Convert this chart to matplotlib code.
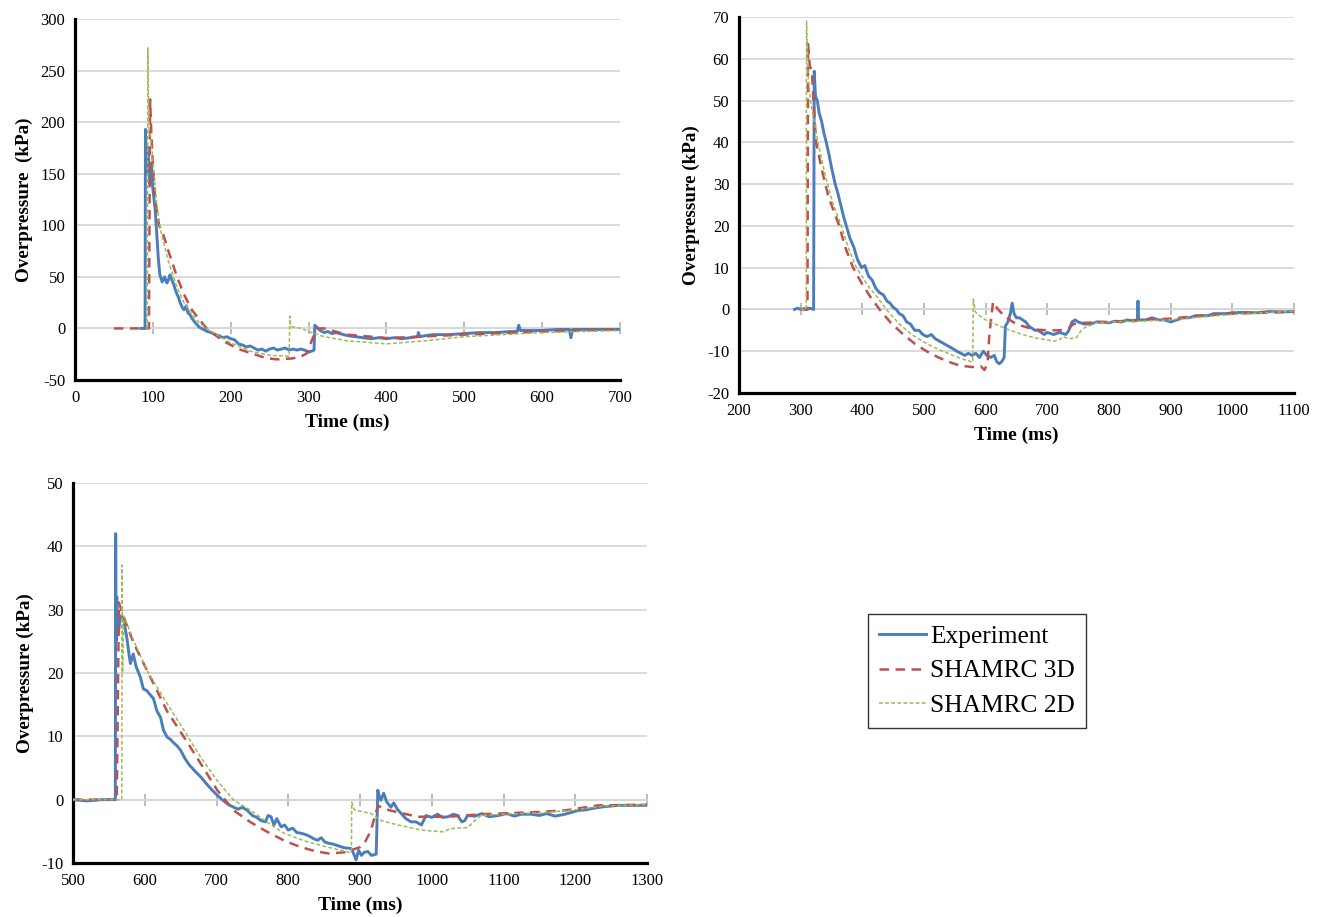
import matplotlib
matplotlib.use("Agg")
import matplotlib.pyplot as plt
import numpy as np

# ---------------- data: (time ms, overpressure kPa) ----------------
# panel A (top left)
a_exp = np.array([
    [85, 0], [90, 0], [90.5, 193], [92, 150], [94, 175], [96, 140], [98, 160], [100, 135],
    [103, 115], [105, 92], [107, 68], [109, 52], [112, 45], [115, 50], [118, 44], [120, 47],
    [122, 52], [124, 48], [127, 42], [130, 35], [133, 30], [135, 25], [138, 20], [140, 18],
    [143, 22], [145, 15], [148, 13], [150, 10], [155, 5], [160, 1], [165, -1], [170, -3],
    [175, -4], [180, -6], [185, -7], [190, -9], [195, -8], [200, -10], [205, -11], [210, -15],
    [215, -16], [220, -18], [225, -17], [230, -19], [235, -21], [240, -20], [245, -22],
    [250, -20], [255, -19], [260, -21], [265, -20], [270, -19], [275, -21], [280, -20],
    [285, -21], [290, -20], [295, -21], [300, -23], [304, -22], [307, -21], [308, 3],
    [311, 1], [315, -2], [320, -4], [325, -3], [330, -5], [335, -4], [340, -5], [350, -7],
    [360, -8], [370, -9], [380, -10], [390, -9], [400, -10], [410, -9], [420, -10], [430, -9],
    [440, -8], [441, -4], [443, -8], [450, -7], [460, -6], [480, -6], [500, -5], [520, -4],
    [540, -4], [560, -3], [568, -3], [570, 3], [572, -2], [580, -2], [600, -2], [620, -1],
    [635, -1], [637, -9], [639, -1], [660, -1], [680, -1], [700, -1],
])
a_3d = np.array([
    [50, 0], [95, 0], [96.5, 222], [98, 190], [100, 160], [103, 125], [108, 100], [113, 92],
    [120, 75], [131, 50], [140, 33], [150, 18], [169, 0], [190, -12], [210, -20], [230, -25],
    [246, -29], [260, -30], [280, -29], [291, -27], [298, -24], [305, -10], [311, 0],
    [320, 0], [327, -1.5], [349, -6], [400, -9.3], [443, -8], [500, -6], [550, -4.5],
    [600, -3], [650, -2], [700, -1],
])
a_2d = np.array([
    [92, 0], [93, 0], [93.5, 272], [95, 195], [97, 185], [100, 165], [105, 120], [110, 95],
    [120, 65], [130, 42], [140, 25], [150, 14], [160, 5], [175, -3], [200, -14], [225, -22],
    [250, -26], [275, -27], [276, 12], [277, 2], [290, 0], [300, -3], [320, -8], [350, -12],
    [400, -15], [450, -12], [500, -8], [550, -6], [600, -4], [650, -3], [700, -2],
])

# panel B (top right)
b_exp = np.array([
    [290, 0], [295, 0.3], [300, 0], [305, 0.2], [310, 0], [315, 0.3], [321, 0], [322, 57],
    [324, 51], [327, 50], [330, 47], [334, 45], [338, 42], [341.6, 40], [346, 37], [350, 34],
    [356, 30], [360, 28], [365, 25], [370, 22], [374, 20], [380, 17], [386, 15], [392, 12],
    [398.7, 10], [404, 10.5], [410, 8], [416, 7], [422, 5], [428, 4], [434, 3.5], [440, 2],
    [445, 1.5], [450, 0.5], [455, 0], [460, -1], [466, -1.5], [472, -3], [478, -3.5],
    [485, -5], [492, -5], [498, -6], [505, -6.5], [512, -6], [518, -7], [524, -7.5],
    [530, -8], [536, -8.5], [542, -9], [548, -9.5], [553, -10], [560, -10.5], [566, -11],
    [572, -10.5], [578, -11], [584, -10.5], [590, -11.5], [596, -10], [602, -11],
    [608, -11.5], [614, -11], [618, -12.5], [622, -13], [626, -12.5], [630, -11.5],
    [632, -4], [636, -3], [640, -1], [643, 1.5], [646, -1], [650, -2], [655, -2],
    [660, -2.5], [665, -3], [670, -4], [675, -4.5], [680, -5], [685, -5], [690, -5.5],
    [695, -6], [700, -5.5], [710, -6], [720, -5.5], [730, -6], [735, -5], [740, -3],
    [745, -2.5], [750, -3], [760, -3.5], [770, -3.5], [780, -3], [790, -3], [800, -3.2],
    [810, -2.8], [820, -3], [830, -2.5], [840, -2.8], [846, -2.5], [847, 2], [848, -2.5],
    [860, -2.5], [870, -2], [880, -2.5], [890, -2.5], [900, -3], [910, -2.5], [920, -2],
    [930, -2], [940, -1.5], [950, -1.5], [960, -1.5], [970, -1], [980, -1], [990, -1],
    [1000, -0.8], [1020, -0.7], [1040, -0.8], [1060, -0.5], [1080, -0.6], [1100, -0.5],
])
b_3d = np.array([
    [300, 0], [311, 0], [312, 63.5], [315, 58], [318, 57.5], [320, 52], [325, 40], [335, 33],
    [345, 27], [362.6, 20], [372, 15], [385, 10], [400, 6], [414, 2.8], [428, 0], [445, -3],
    [465, -5.8], [485, -8.2], [504, -10], [525, -11.6], [545, -12.8], [560, -13.5],
    [580, -13.8], [592, -13.6], [598, -14.5], [603, -13], [606, -6], [612, 1.8], [620, 0],
    [630, -1.5], [644, -3], [660, -4], [680, -4.8], [700, -5], [720, -5], [735, -4.5],
    [742, -3.5], [760, -3.2], [800, -3], [850, -2.5], [900, -2.2], [950, -1.5], [1000, -1],
    [1050, -0.8], [1100, -0.5],
])
b_2d = np.array([
    [300, 0], [309, 0], [309.5, 69], [312, 56], [316, 50], [322, 45], [328, 40], [340, 32],
    [352, 25.5], [366, 20], [378, 14.5], [390.5, 10], [410, 5.5], [425, 2.8], [439, 0],
    [460, -3.5], [480, -6], [500, -7.8], [515, -9], [531, -10], [550, -11.2], [565, -12],
    [579, -12.6], [580, 2.5], [583, -0.5], [590, -1.5], [600, -2.5], [620, -3.8],
    [640, -5], [660, -6], [680, -6.8], [700, -7.3], [710, -7.6], [720, -7.2], [725, -6.5],
    [735, -7], [747, -6.8], [755, -5], [760, -4.4], [780, -3.2], [800, -3], [850, -2.8],
    [900, -2.5], [950, -1.8], [1000, -1.2], [1050, -0.8], [1100, -0.4],
])

# panel C (bottom left)
c_exp = np.array([
    [500, 0], [520, -0.2], [540, 0], [559, 0], [559.5, 42], [560, 25], [561, 32], [563, 26],
    [566, 29], [570, 28.8], [575, 25.6], [578, 23], [580, 21.5], [584, 23], [588, 21],
    [594, 19.3], [598, 17.5], [603, 17.2], [608, 16.5], [612, 16], [617, 14], [622, 13],
    [626, 11], [631, 9.9], [636, 9.5], [640, 9], [645, 8.5], [650, 7.8], [656, 6.5],
    [662, 5.5], [670, 4.5], [678, 3.6], [686, 2.5], [694, 1.5], [701, 0.7], [710, -0.2],
    [717, -0.8], [724, -1.2], [730, -1.5], [736, -1.2], [743, -1.7], [750, -2.5],
    [756, -2.8], [762, -3.3], [768, -3.5], [772, -2.5], [776, -2.7], [780, -4],
    [784, -3], [790, -4.3], [795, -4], [800, -4.8], [806, -4.5], [812, -5.2], [818, -5.3],
    [824, -5.5], [830, -5.8], [836, -6.2], [841, -6.4], [846, -6], [851, -6.7], [857, -6.9],
    [862, -7], [870, -7.3], [878, -7.6], [887.5, -7.7], [891, -8.5], [894.5, -9.5],
    [898, -8], [902, -8.8], [906, -8.3], [911, -8.2], [916, -8.8], [922.6, -8.6],
    [924.8, 1.5], [927, 0.5], [929, -0.1], [933, 1.0], [937, -0.3], [943, -1.2],
    [947, -0.5], [952, -1.5], [957.5, -2.2], [964, -3], [971, -3.5], [978, -3.5],
    [985.6, -4], [992, -2.5], [1000, -2.8], [1008, -2.3], [1015, -2.8], [1022.6, -2.7],
    [1030, -2.3], [1036, -2.5], [1042, -3.5], [1046, -3.3], [1050, -2.5], [1060, -2.6],
    [1070, -2.2], [1080, -2.7], [1092.5, -2.5], [1105, -2.2], [1115, -2.6], [1125, -2.3],
    [1139, -2.3], [1150, -2.5], [1160, -2.2], [1172, -2.6], [1185.6, -2.3], [1195, -2.0],
    [1204, -1.7], [1215, -1.6], [1228, -1.3], [1241, -1.1], [1260, -0.9], [1280, -0.9],
    [1300, -0.9],
])
c_3d = np.array([
    [500, 0], [561, 0], [564, 31.1], [570, 29], [585, 24.6], [608, 19.3], [631, 14],
    [654.6, 9.9], [678, 5.7], [701, 1.5], [724, -1.7], [748, -3.6], [771, -5.1],
    [795, -6.5], [817.6, -7.5], [840, -8.2], [857, -8.5], [880, -8.3], [900, -7.5],
    [908, -6.5], [915.5, -4.8], [922, -2], [926, -1], [935, -1.5], [953, -2], [980.7, -2.7],
    [1022.6, -2.7], [1069, -2.3], [1139, -2], [1185.6, -1.7], [1232, -0.9], [1300, -0.8],
])
c_2d = np.array([
    [500, 0], [566, 0], [568, 0], [568.5, 37], [569, 20], [571, 29], [585, 25], [605, 20],
    [631, 15.2], [660, 10], [678, 6.7], [701, 3], [724, -0.1], [748, -1.7], [771, -3.6],
    [794, -5.3], [825, -6.6], [855, -7.5], [870, -7.9], [885, -8.3], [888, -8.3],
    [888.5, -0.4], [892, -1.6], [915.5, -2.2], [929.5, -3.3], [953, -4], [985.6, -4.8],
    [1017.6, -5.1], [1024.6, -4.6], [1050, -4.4], [1059.8, -3.3], [1069, -2.5],
    [1100, -2.3], [1150, -2.1], [1200, -1.6], [1240, -1.0], [1300, -0.8],
])

series_names = ["Experiment", "SHAMRC 3D", "SHAMRC 2D"]

# ---------------- style ----------------
BLUE, RED, GREEN = "#4a7ebb", "#c0504d", "#9bbb59"
plt.rcParams["font.family"] = ["Liberation Serif", "DejaVu Serif"]
plt.rcParams["axes.unicode_minus"] = False

W, H = 1320, 917
fig = plt.figure(figsize=(W / 100, H / 100), dpi=100)


def px_rect(x0, y0, x1, y1):
    return [x0 / W, 1 - y1 / H, (x1 - x0) / W, (y1 - y0) / H]


panels = [
    dict(rect=px_rect(75, 19, 620, 380), data=(a_exp, a_3d, a_2d),
         xlim=(0, 700), ylim=(-50, 300), ystep=50, ylabel="Overpressure  (kPa)"),
    dict(rect=px_rect(739, 17, 1294, 393), data=(b_exp, b_3d, b_2d),
         xlim=(200, 1100), ylim=(-20, 70), ystep=10, ylabel="Overpressure (kPa)"),
    dict(rect=px_rect(73, 483, 647, 863), data=(c_exp, c_3d, c_2d),
         xlim=(500, 1300), ylim=(-10, 50), ystep=10, ylabel="Overpressure (kPa)"),
]

handles = None
for p in panels:
    ax = fig.add_axes(p["rect"])
    exp, s3, s2 = p["data"]
    l1, = ax.plot(exp[:, 0], exp[:, 1], color=BLUE, lw=2.1, zorder=3)
    l2, = ax.plot(s3[:, 0], s3[:, 1], color=RED, lw=1.8, ls=(0, (3.8, 2.6)), zorder=4)
    l3, = ax.plot(s2[:, 0], s2[:, 1], color=GREEN, lw=1.1, ls=(0, (2.5, 1.5)), zorder=5)
    handles = [l1, l2, l3]

    x0, x1 = p["xlim"]
    y0, y1 = p["ylim"]
    ax.set_xlim(x0, x1)
    ax.set_ylim(y0, y1)
    xt = np.arange(x0, x1 + 1, 100)
    ax.set_xticks(xt)
    ax.set_yticks(np.arange(y0, y1 + 0.1, p["ystep"]))
    ax.yaxis.grid(True, color="#d9d9d9", lw=1.3)
    ax.set_axisbelow(True)
    for s in ("top", "right"):
        ax.spines[s].set_visible(False)
    for s in ("left", "bottom"):
        ax.spines[s].set_linewidth(2.3)
        ax.spines[s].set_color("black")
    ax.tick_params(length=0, labelsize=12, pad=7)
    ax.set_ylabel(p["ylabel"], fontsize=13.8, fontweight="bold", labelpad=5)
    ax.set_xlabel("Time (ms)", fontsize=14, fontweight="bold", labelpad=6)

    # zero line with small gray tick marks (Excel style axis crossing)
    sec = ax.secondary_xaxis((0 - y0) / (y1 - y0))
    sec.set_xticks(xt)
    sec.tick_params(direction="inout", length=8, width=1.2, color="#b0b0b0",
                    labelbottom=False, labeltop=False)
    for s in sec.spines.values():
        s.set_color("#c8c8c8")
        s.set_linewidth(1.3)

leg = fig.legend(handles, series_names, loc="upper left",
                 bbox_to_anchor=(868 / W, 1 - 614 / H), fontsize=18.3,
                 frameon=True, fancybox=False, edgecolor="black",
                 handlelength=1.85, handletextpad=0.15, labelspacing=0.45,
                 borderpad=0.45, borderaxespad=0)
leg.get_frame().set_linewidth(1.0)

fig.savefig("out.png", dpi=100)
